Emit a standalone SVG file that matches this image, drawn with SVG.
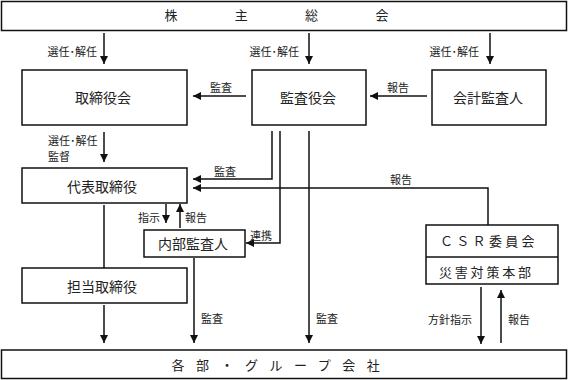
<svg xmlns="http://www.w3.org/2000/svg" width="569" height="380" viewBox="0 0 569 380">
<style>
.box{fill:#fff;stroke:#111;stroke-width:1.5}
.ln{fill:none;stroke:#111;stroke-width:1.5}
.ar{fill:none;stroke:#111;stroke-width:1.5;marker-end:url(#ah)}
text{font-family:"Noto Sans CJK JP","Noto Sans CJK SC",sans-serif;fill:#222}
.t{font-size:14px;text-anchor:middle}
.big{font-size:13px}
.lb{font-size:11px}
.e{text-anchor:end}
.m{text-anchor:middle}
</style>
<defs>
<marker id="ah" markerUnits="userSpaceOnUse" markerWidth="8" markerHeight="8" viewBox="0 0 10 10" refX="10" refY="5" orient="auto">
<path d="M0,0 L10,5 L0,10 z" fill="#111"/>
</marker>
</defs>
<g id="connectors">
<path class="ar" d="M104,33 V64"/>
<path class="ar" d="M309,33 V64"/>
<path class="ar" d="M490,33 V64"/>
<path class="ar" d="M246,96 H193"/>
<path class="ar" d="M427,96 H370"/>
<path class="ar" d="M104,132 V162"/>
<path class="ln" d="M104,205 V268"/>
<path class="ar" d="M104,305 V343"/>
<path class="ar" d="M272,131 V179 H193"/>
<path class="ar" d="M488,225 V188 H193"/>
<path class="ar" d="M280,131 V243 H246"/>
<path class="ar" d="M309,131 V343"/>
<path class="ar" d="M194,258 V343"/>
<path class="ar" d="M166,204 V223"/>
<path class="ar" d="M180,228 V204"/>
<path class="ar" d="M481,287 V344"/>
<path class="ar" d="M501,343 V290"/>
<text class="lb e" x="97" y="56">選任･解任</text>
<text class="lb e" x="299" y="56">選任･解任</text>
<text class="lb e" x="479" y="56">選任･解任</text>
<text class="lb m" x="221" y="92">監査</text>
<text class="lb m" x="398" y="92">報告</text>
<text class="lb" x="48" y="145">選任･解任</text>
<text class="lb" x="48" y="161">監督</text>
<text class="lb m" x="225" y="176">監査</text>
<text class="lb m" x="401" y="184">報告</text>
<text class="lb" x="250" y="240">連携</text>
<text class="lb e" x="160" y="222">指示</text>
<text class="lb" x="185" y="222">報告</text>
<text class="lb" x="201" y="323">監査</text>
<text class="lb" x="316" y="323">監査</text>
<text class="lb e" x="472" y="324">方針指示</text>
<text class="lb" x="508" y="324">報告</text>
</g>
<g id="shareholders">
<rect class="box" x="1.5" y="1.5" width="565" height="29"/>
<text class="big" x="164.5" y="19.5" letter-spacing="57.3">株主総会</text>
</g>
<g id="board">
<rect class="box" x="22" y="70" width="165" height="55"/>
<text class="t" x="103" y="103">取締役会</text>
</g>
<g id="auditboard">
<rect class="box" x="252" y="70" width="114" height="55"/>
<text class="t" x="308" y="103">監査役会</text>
</g>
<g id="accountingauditor">
<rect class="box" x="432" y="70" width="114" height="55"/>
<text class="t" x="488" y="103">会計監査人</text>
</g>
<g id="president">
<rect class="box" x="22" y="168" width="165" height="35"/>
<text class="t" x="102" y="192">代表取締役</text>
</g>
<g id="internalauditor">
<rect class="box" x="144" y="230" width="101" height="27"/>
<text class="t" x="193" y="249">内部監査人</text>
</g>
<g id="director">
<rect class="box" x="22" y="268" width="165" height="35"/>
<text class="t" x="102" y="292">担当取締役</text>
</g>
<g id="csr">
<rect class="box" x="426" y="225" width="132" height="59"/>
<path class="ln" d="M426,257 H558"/>
<text class="big" x="440" y="246" letter-spacing="3.3">ＣＳＲ委員会</text>
<text class="big" x="439" y="277" letter-spacing="2.8">災害対策本部</text>
</g>
<g id="departments">
<rect class="box" x="1.5" y="350" width="565" height="28.5"/>
<text class="big" x="171.5" y="369.5" letter-spacing="11.5">各部・グループ会社</text>
</g>
</svg>
